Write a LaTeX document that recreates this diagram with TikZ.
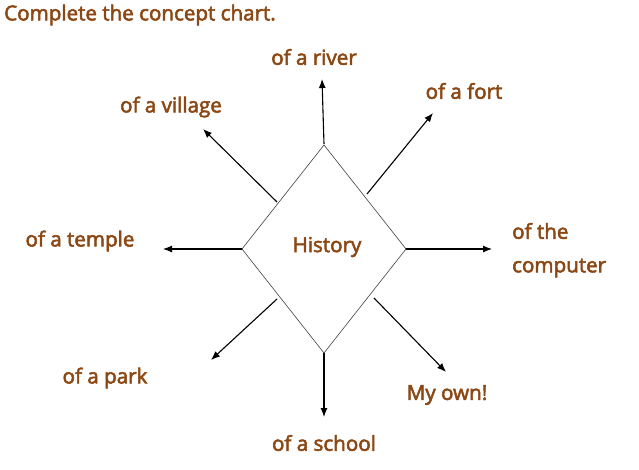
\documentclass[tikz,border=0pt]{standalone}
\usepackage{fontspec}
\setmainfont{Open Sans}
\newfontfamily\labfont{Open Sans}[FakeBold=2.6]
\usetikzlibrary{arrows.meta}
\definecolor{lbl}{RGB}{139,72,20}
\begin{document}
\begin{tikzpicture}[x=1pt,y=-1pt,
  lab/.style={text=lbl,font=\labfont\fontsize{20.6}{23}\selectfont,inner sep=0pt},
  arr/.style={line width=1.1pt,-{Latex[length=9pt,width=7pt]}},
  dia/.style={draw=black!75,line width=0.6pt}]
\useasboundingbox (0,0) rectangle (639,470);
% diamond
\coordinate (T) at (324,145);
\coordinate (B) at (324,353);
\coordinate (L) at (242,249);
\coordinate (R) at (406,249);
\draw[dia] (T) -- (R) -- (B) -- (L) -- cycle;
\node[lab] (hist) at (327,247) {History};
% title
\node[lab,anchor=west] (title) at (4,15) {Complete the concept chart.};
% labels
\node[lab] (river) at (314,57) {of a river};
\node[lab] (fort) at (464,91) {of a fort};
\node[lab] (village) at (171,107) {of a village};
\node[lab] (temple) at (80,241) {of a temple};
\node[lab,anchor=west] (comp1) at (512,231) {of the};
\node[lab,anchor=west] (comp2) at (512,268) {computer};
\node[lab] (park) at (105,378) {of a park};
\node[lab] (own) at (447,395) {My own!};
\node[lab] (school) at (324,443) {of a school};
% arrow start/end points
\coordinate (sU) at (324,144); \coordinate (eU) at (322,79);
\coordinate (sF) at (367,194); \coordinate (eF) at (433,113);
\coordinate (sV) at (277,202); \coordinate (eV) at (203,129);
\coordinate (sT) at (242,249); \coordinate (eT) at (163,249);
\coordinate (sC) at (406,249); \coordinate (eC) at (492,249);
\coordinate (sP) at (277,299); \coordinate (eP) at (211,360);
\coordinate (sO) at (374,298); \coordinate (eO) at (446,372);
\coordinate (sS) at (324,353); \coordinate (eS) at (324,417);
\draw[arr] (sU) -- (eU);
\draw[arr] (sF) -- (eF);
\draw[arr] (sV) -- (eV);
\draw[arr] (sT) -- (eT);
\draw[arr] (sC) -- (eC);
\draw[arr] (sP) -- (eP);
\draw[arr] (sO) -- (eO);
\draw[arr] (sS) -- (eS);
\end{tikzpicture}
\end{document}
